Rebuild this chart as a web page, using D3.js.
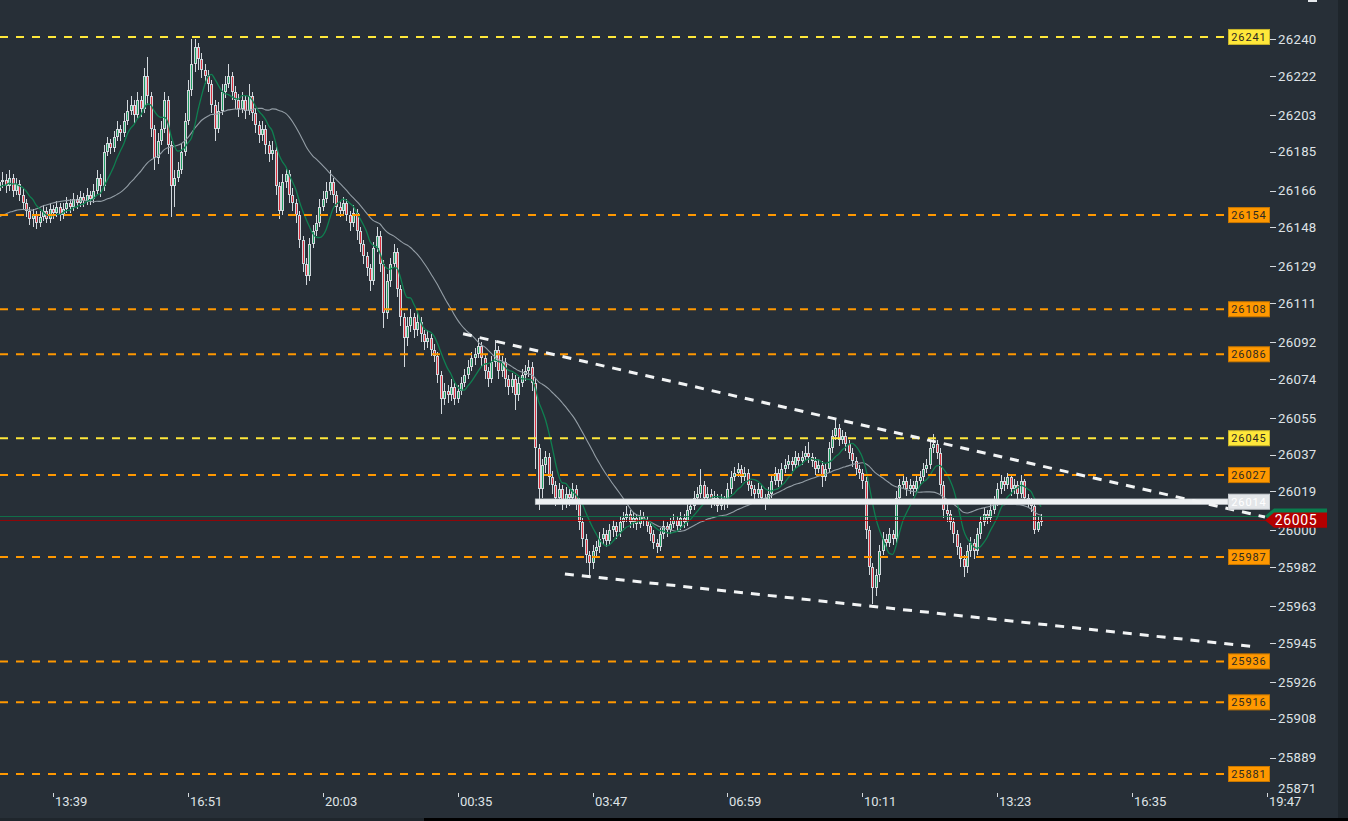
<!DOCTYPE html>
<html><head><meta charset="utf-8">
<script src="https://cdn.jsdelivr.net/npm/d3@7"></script>
<style>
html,body{margin:0;padding:0;background:#272f37;overflow:hidden}
svg{display:block}
text{font-family:Roboto,"Noto Sans",sans-serif}
</style></head><body>
<svg id="chart" width="1348" height="821"></svg>
<script>
// ---------- DATA ----------
const opens = [26128,26132,26136,26130,26138,26142,26140,26146,26144,26150,26155,26152,26158,26162,26166,26164,26170,26168,26172,26166,
26170,26171,26168,26172,26166,26169,26164,26160,26156,26152,
26154,26150,26153,26156,26152,26157,26155,26158,26154,26157,
26160,26158,26162,26160,26163,26161,26164,26162,26166,26172,
26168,26185,26189,26187,26192,26196,26194,26200,26205,26208,
26203,26210,26206,26222,26212,26196,26182,26190,26196,26210,
26188,26168,26172,26176,26185,26200,26215,26228,26236,26230,
26225,26222,26218,26208,26196,26205,26214,26218,26222,26214,
26210,26206,26210,26205,26212,26204,26198,26193,26196,26188,
26184,26186,26168,26156,26170,26174,26164,26160,26154,26142,
26130,26124,26140,26146,26150,26158,26162,26166,26170,26164,
26158,26156,26160,26154,26150,26155,26146,26140,26134,26128,
26122,26138,26144,26130,26106,26122,26130,26136,26118,26104,
26094,26100,26104,26098,26102,26096,26092,26094,26088,26085,
26076,26064,26068,26066,26070,26064,26068,26072,26076,26080,
26084,26086,26090,26084,26078,26074,26082,26088,26078,26082,
26074,26070,26074,26066,26072,26076,26078,26080,26072,26040,
26020,26032,26036,26026,26022,26016,26020,26014,26018,26016,
26020,26014,26004,25996,25988,25984,25990,25992,25996,25998,
25995,26000,26002,25999,26004,26006,26008,26004,26006,26003,
26007,26005,26002,25998,25994,25992,25998,26002,26000,26003,
26005,26002,26006,26004,26010,26012,26016,26018,26022,26016,
26018,26014,26016,26012,26015,26013,26020,26026,26028,26030,
26026,26028,26022,26020,26018,26020,26016,26015,26018,26024,
26028,26024,26030,26032,26034,26032,26036,26034,26036,26038,
26036,26034,26030,26032,26026,26030,26040,26046,26050,26044,
26046,26042,26038,26034,26030,26028,26024,26000,25982,25972,
25978,25990,25996,25994,25998,25996,26016,26022,26024,26020,
26022,26020,26024,26026,26030,26032,26040,26042,26038,26022,
26010,26008,26004,25998,25992,25986,25982,25990,25994,25990,
25998,26004,26008,26006,26010,26014,26020,26024,26022,26026,
26020,26022,26018,26024,26016,26014,26012,26000,26004];

const highs = [26135,26139,26138,26141,26145,26144,26149,26148,26153,26158,26157,26161,26165,26169,26168,26173,26172,26175,26174,26173,
26175,26174,26176,26174,26172,26171,26167,26162,26158,26157,
26156,26156,26159,26158,26160,26159,26161,26160,26160,26163,
26162,26165,26164,26166,26165,26167,26166,26169,26176,26174,
26188,26192,26191,26195,26200,26198,26204,26210,26212,26210,
26214,26212,26226,26231,26214,26198,26194,26200,26214,26212,
26190,26176,26180,26189,26204,26220,26240,26240,26238,26233,
26228,26225,26220,26210,26209,26218,26222,26228,26224,26217,
26213,26214,26212,26218,26214,26206,26200,26200,26198,26190,
26190,26188,26170,26174,26177,26176,26167,26162,26156,26144,
26133,26143,26149,26154,26162,26166,26170,26176,26172,26166,
26161,26163,26162,26156,26159,26157,26148,26142,26136,26130,
26141,26148,26146,26132,26125,26133,26140,26138,26120,26106,
26104,26108,26106,26106,26104,26098,26098,26096,26091,26087,
26078,26072,26071,26074,26072,26071,26075,26079,26083,26087,
26089,26094,26092,26086,26080,26085,26093,26090,26085,26084,
26076,26077,26076,26075,26079,26081,26083,26082,26074,26042,
26035,26039,26038,26029,26024,26023,26022,26021,26020,26023,
26022,26016,26006,25998,25990,25993,25995,25999,26001,26000,
26003,26005,26004,26007,26009,26012,26010,26009,26008,26010,
26009,26007,26004,26000,25996,26001,26005,26004,26006,26008,
26007,26009,26008,26013,26015,26019,26021,26030,26024,26021,
26020,26019,26018,26018,26017,26023,26029,26031,26033,26032,
26031,26030,26024,26022,26023,26022,26018,26021,26027,26031,
26030,26033,26035,26037,26036,26039,26038,26039,26041,26043,
26038,26036,26035,26034,26033,26043,26049,26054,26052,26049,
26048,26044,26040,26036,26032,26030,26026,26002,25984,25981,
25993,25999,25998,26001,26000,26019,26025,26027,26026,26025,
26024,26027,26029,26033,26035,26043,26047,26044,26040,26024,
26013,26010,26006,26000,25994,25988,25993,25997,25996,26001,
26007,26011,26010,26013,26017,26023,26027,26026,26028,26027,
26025,26024,26027,26025,26018,26016,26014,26007,26008];

const lows = [26126,26130,26127,26128,26136,26137,26138,26141,26142,26148,26149,26150,26156,26160,26161,26162,26165,26166,26163,26164,
26167,26165,26166,26163,26164,26161,26157,26153,26149,26148,
26147,26148,26151,26150,26150,26152,26153,26151,26152,26155,
26155,26156,26157,26158,26158,26159,26159,26160,26164,26163,
26166,26183,26184,26185,26190,26190,26192,26198,26203,26199,
26201,26202,26204,26208,26192,26176,26179,26188,26194,26184,
26153,26158,26170,26174,26183,26198,26212,26224,26225,26221,
26218,26214,26204,26190,26194,26203,26211,26216,26210,26206,
26202,26204,26201,26203,26200,26194,26189,26190,26184,26180,
26181,26164,26152,26154,26167,26160,26156,26150,26138,26126,
26120,26122,26138,26144,26148,26156,26160,26164,26160,26155,
26153,26154,26151,26146,26148,26142,26136,26130,26124,26117,
26120,26136,26126,26099,26103,26119,26128,26114,26100,26080,
26090,26097,26094,26095,26092,26088,26089,26085,26082,26072,
26057,26061,26062,26063,26061,26062,26066,26070,26074,26078,
26081,26084,26080,26074,26070,26072,26080,26074,26075,26070,
26066,26067,26059,26063,26070,26073,26075,26068,26030,26010,
26016,26028,26022,26018,26012,26013,26010,26011,26012,26013,
26010,26000,25992,25984,25977,25981,25987,25989,25993,25992,
25993,25997,25996,25997,26001,26004,26001,26001,26000,26001,
26002,25999,25995,25991,25989,25990,25996,25997,25998,26001,
25999,26000,26001,26002,26008,26010,26014,26016,26013,26014,
26011,26012,26009,26010,26010,26011,26018,26024,26026,26023,
26024,26019,26017,26015,26016,26013,26010,26013,26016,26022,
26021,26022,26028,26030,26029,26030,26031,26032,26034,26033,
26031,26027,26028,26021,26024,26028,26038,26044,26041,26042,
26039,26035,26031,26027,26025,26020,25996,25978,25964,25968,
25975,25988,25991,25992,25993,25994,26014,26020,26017,26018,
26017,26018,26022,26024,26028,26030,26038,26035,26018,26006,
26004,26000,25994,25988,25982,25977,25979,25987,25986,25988,
25996,26002,26003,26004,26008,26012,26018,26019,26020,26017,
26018,26015,26016,26013,26011,26009,25998,25999,26002];

const closes = [26132,26136,26130,26138,26142,26140,26146,26144,26150,26155,26152,26158,26162,26166,26164,26170,26168,26172,26166,26170,
26171,26168,26172,26166,26169,26164,26160,26156,26152,26154,
26150,26153,26156,26152,26157,26155,26158,26154,26157,26160,
26158,26162,26160,26163,26161,26164,26162,26166,26172,26168,
26185,26189,26187,26192,26196,26194,26200,26205,26208,26203,
26210,26206,26222,26212,26196,26182,26190,26196,26210,26188,
26168,26172,26176,26185,26200,26215,26228,26236,26230,26225,
26222,26218,26208,26196,26205,26214,26218,26222,26214,26210,
26206,26210,26205,26212,26204,26198,26193,26196,26188,26184,
26186,26168,26156,26170,26174,26164,26160,26154,26142,26130,
26124,26140,26146,26150,26158,26162,26166,26170,26164,26158,
26156,26160,26154,26150,26155,26146,26140,26134,26128,26122,
26138,26144,26130,26106,26122,26130,26136,26118,26104,26094,
26100,26104,26098,26102,26096,26092,26094,26088,26085,26076,
26064,26068,26066,26070,26064,26068,26072,26076,26080,26084,
26086,26090,26084,26078,26074,26082,26088,26078,26082,26074,
26070,26074,26066,26072,26076,26078,26080,26072,26040,26020,
26032,26036,26026,26022,26016,26020,26014,26018,26016,26020,
26014,26004,25996,25988,25984,25990,25992,25996,25998,25995,
26000,26002,25999,26004,26006,26008,26004,26006,26003,26007,
26005,26002,25998,25994,25992,25998,26002,26000,26003,26005,
26002,26006,26004,26010,26012,26016,26018,26022,26016,26018,
26014,26016,26012,26015,26013,26020,26026,26028,26030,26026,
26028,26022,26020,26018,26020,26016,26015,26018,26024,26028,
26024,26030,26032,26034,26032,26036,26034,26036,26038,26036,
26034,26030,26032,26026,26030,26040,26046,26050,26044,26046,
26042,26038,26034,26030,26028,26024,26000,25982,25972,25978,
25990,25996,25994,25998,25996,26016,26022,26024,26020,26022,
26020,26024,26026,26030,26032,26040,26042,26038,26022,26010,
26008,26004,25998,25992,25986,25982,25990,25994,25990,25998,
26004,26008,26006,26010,26014,26020,26024,26022,26026,26020,
26022,26018,26024,26016,26014,26012,26000,26004,26005];

const timeTickLabels = ["13:39","16:51","20:03","00:35","03:47","06:59","10:11","13:23","16:35","19:47"];
const timeTickIndex  = [35,75,115,155,195,235,275,315,355,395];
const priceTicks = [26240,26222,26203,26185,26166,26148,26129,26111,26092,26074,26055,26037,26019,26000,25982,25963,25945,25926,25908,25889,25871];
const levelValues = [26241,26154,26108,26086,26045,26027,25987,25936,25916,25881];
const levelKinds  = ["major","minor","minor","minor","major","minor","minor","minor","minor","minor"];
const markLevel = 26014, markLevelStartIndex = 178;
const lastPrice = 26005, bidPrice = 26007;
const trendUpper = [[156.6,26096],[394.4,26006.5]];
const trendLower = [[186.8,25978.7],[392.3,25943]];
const maFastPeriod = 8, maSlowPeriod = 30;

// ---------- CHART ----------
const W = 1348, H = 821, plotRight = 1270, labelLeft = 1228;
const svg = d3.select("#chart");
svg.append("rect").attr("width",W).attr("height",H).attr("fill","#272f37");

const x = d3.scaleLinear().domain([timeTickIndex[0], timeTickIndex[timeTickIndex.length-1]]).range([53,1267]);
const y = d3.scaleLinear().domain([25881,26240]).range([774,39]);

const defs = svg.append("defs");
defs.append("clipPath").attr("id","clip").append("rect").attr("x",0).attr("y",0).attr("width",plotRight).attr("height",792);

const candles = closes.map((c,i)=>({i,o:opens[i],h:highs[i],l:lows[i],c}));
const plot = svg.append("g").attr("clip-path","url(#clip)");

const cg = plot.append("g").attr("shape-rendering","crispEdges");
const px = d => Math.round(x(d.i));
cg.selectAll("line.wick").data(candles).join("line")
  .attr("x1",d=>px(d)+0.5).attr("x2",d=>px(d)+0.5)
  .attr("y1",d=>y(d.h)).attr("y2",d=>y(d.l))
  .attr("stroke","#d2d8dd").attr("stroke-width",1);
cg.selectAll("rect.body").data(candles).join("rect")
  .attr("x",d=>px(d)-1).attr("width",3)
  .attr("y",d=>y(Math.max(d.o,d.c)))
  .attr("height",d=>Math.max(1.5,Math.abs(y(d.o)-y(d.c))))
  .attr("fill","#d2d8dd");
cg.selectAll("rect.core").data(candles.filter(d=>Math.abs(y(d.o)-y(d.c))>2.5)).join("rect")
  .attr("x",d=>px(d)).attr("width",1)
  .attr("y",d=>y(Math.max(d.o,d.c))+1)
  .attr("height",d=>Math.abs(y(d.o)-y(d.c))-2)
  .attr("fill",d=>d.c>=d.o?"#1f9e62":"#d9303e");

function sma(n){
  return closes.map((c,i)=>{
    const s = closes.slice(Math.max(0,i-n+1), i+1);
    return {i, v:d3.mean(s)};
  });
}
const line = d3.line().x(d=>x(d.i)).y(d=>y(d.v)).curve(d3.curveMonotoneX);
plot.append("path").datum(sma(maSlowPeriod)).attr("d",line).attr("fill","none").attr("stroke","#949ea6").attr("stroke-width",1.1);
plot.append("path").datum(sma(maFastPeriod)).attr("d",line).attr("fill","none").attr("stroke","#0f7f50").attr("stroke-width",1.3);

// level lines
const levelColor = k => k==="major" ? "#ffe83a" : "#ff9800";
const levelBorder = k => k==="major" ? "#c9b52c" : "#c97800";
svg.selectAll("line.level").data(levelValues).join("line")
  .attr("x1",0).attr("x2",labelLeft)
  .attr("y1",d=>y(d)).attr("y2",d=>y(d))
  .attr("stroke",(d,i)=>levelColor(levelKinds[i])).attr("stroke-width",2)
  .attr("stroke-dasharray","8,8");

// bid / last price lines
svg.append("line").attr("x1",0).attr("x2",1266).attr("y1",Math.round(y(bidPrice))+0.5).attr("y2",Math.round(y(bidPrice))+0.5)
  .attr("stroke","#0c7a4c").attr("stroke-width",1).attr("opacity",0.85);
svg.append("line").attr("x1",0).attr("x2",1266).attr("y1",Math.round(y(lastPrice))+0.5).attr("y2",Math.round(y(lastPrice))+0.5)
  .attr("stroke","#a00000").attr("stroke-width",1).attr("opacity",0.85);

// marked white level
svg.append("rect").attr("x",x(markLevelStartIndex)).attr("width",labelLeft-x(markLevelStartIndex))
  .attr("y",y(markLevel)-2.8).attr("height",5.6).attr("fill","#eef1f3").attr("stroke","#b9c0c6").attr("stroke-width",0.6);

// trend lines
[trendUpper,trendLower].forEach(t=>{
  svg.append("line").attr("x1",x(t[0][0])).attr("y1",y(t[0][1])).attr("x2",x(t[1][0])).attr("y2",y(t[1][1]))
    .attr("stroke","#f1f3f4").attr("stroke-width",3).attr("stroke-dasharray","9,8");
});

// level labels
const lg = svg.selectAll("g.lvl").data(levelValues).join("g").attr("transform",d=>`translate(${labelLeft},${y(d)})`);
lg.append("rect").attr("x",0.5).attr("y",-7.5).attr("width",41).attr("height",15)
  .attr("fill",(d,i)=>levelColor(levelKinds[i])).attr("stroke",(d,i)=>levelBorder(levelKinds[i])).attr("stroke-width",1);
lg.append("text").attr("x",21).attr("y",0).attr("dy","0.36em").attr("text-anchor","middle")
  .attr("font-size",11).attr("letter-spacing",0.9).attr("fill","#2e2a22").text(d=>d);

// marked level label
const ml = svg.append("g").attr("transform",`translate(${labelLeft},${y(markLevel)})`);
ml.append("rect").attr("x",0.5).attr("y",-7.5).attr("width",41).attr("height",15).attr("fill","#e3e6e9").attr("stroke","#c9ced2");
ml.append("text").attr("x",21).attr("dy","0.36em").attr("text-anchor","middle").attr("font-size",11).attr("letter-spacing",0.9)
  .attr("fill","#ffffff").text(markLevel);

// y axis ticks
const yg = svg.append("g");
priceTicks.forEach(v=>{
  let yy = y(v);
  const inside = yy <= 790;
  if(!inside) yy = 788;
  if(inside) yg.append("line").attr("x1",plotRight).attr("x2",plotRight+6).attr("y1",Math.round(yy)+0.5).attr("y2",Math.round(yy)+0.5)
    .attr("stroke","#d5dade").attr("stroke-width",1);
  yg.append("text").attr("x",plotRight+8).attr("y",yy).attr("dy","0.36em").attr("font-size",13.2).attr("letter-spacing",0.3)
    .attr("fill","#dfe3e6").text(v);
});

// price tags: bid tag sits behind the last-price tag, only its top edge shows
function priceTag(v, fill, withText){
  const yy = y(v);
  const g = svg.append("g").attr("transform",`translate(1265,${yy})`);
  g.append("path").attr("d","M0,0 L9,-7.6 L62,-7.6 L62,7.6 L9,7.6 Z").attr("fill",fill);
  if(withText) g.append("text").attr("x",31).attr("dy","0.36em").attr("text-anchor","middle").attr("font-size",14).attr("letter-spacing",0.6)
    .attr("fill","#ffffff").text(v);
}
priceTag(bidPrice,"#0a7d4e",false);
priceTag(lastPrice,"#b30000",true);

// x axis ticks
const xg = svg.append("g");
timeTickLabels.forEach((lab,j)=>{
  const xx = Math.round(x(timeTickIndex[j]))+0.5;
  xg.append("line").attr("x1",xx).attr("x2",xx).attr("y1",793).attr("y2",797).attr("stroke","#d5dade");
  xg.append("text").attr("x",xx+1.5).attr("y",806).attr("font-size",13).attr("fill","#dfe3e6").text(lab);
});

// frame strips
svg.append("rect").attr("x",1338).attr("y",0).attr("width",10).attr("height",H).attr("fill","#1e252b");
svg.append("rect").attr("x",0).attr("y",818).attr("width",424).attr("height",3).attr("fill","#1f262c");
svg.append("rect").attr("x",424).attr("y",818).attr("width",W-424).attr("height",3).attr("fill","#000000");
svg.append("rect").attr("x",1308).attr("y",0).attr("width",9).attr("height",2).attr("fill","#e6e9ec");
</script>
</body></html>
